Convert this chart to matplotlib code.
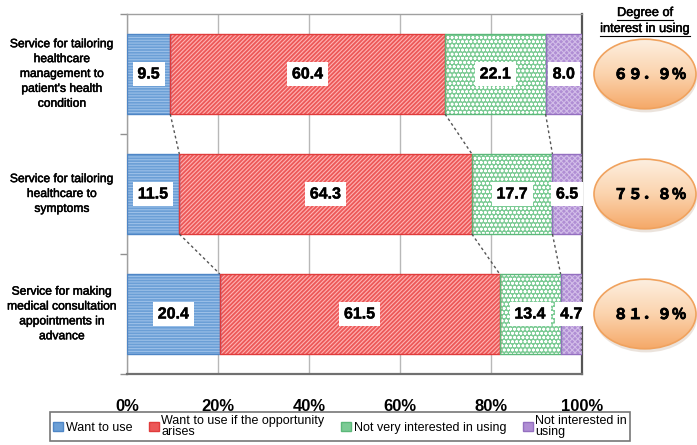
import numpy as np
import matplotlib
matplotlib.use("Agg")
import matplotlib.pyplot as plt
from matplotlib.patches import Ellipse, Patch
from matplotlib import patheffects
from matplotlib.transforms import blended_transform_factory

# ---- data -------------------------------------------------------------
categories = [
    "Service for tailoring\nhealthcare\nmanagement to\npatient's health\ncondition",
    "Service for tailoring\nhealthcare to\nsymptoms",
    "Service for making\nmedical consultation\nappointments in\nadvance",
]
series_names = [
    "Want to use",
    "Want to use if the opportunity\narises",
    "Not very interested in using",
    "Not interested in\nusing",
]
want_to_use = [9.5, 11.5, 20.4]
want_if_opportunity = [60.4, 64.3, 61.5]
not_very_interested = [22.1, 17.7, 13.4]
not_interested = [8.0, 6.5, 4.7]
interest_degree = ["６９．９％", "７５．８％", "８１．９％"]
x_ticks = [0, 20, 40, 60, 80, 100]
x_tick_labels = ["0%", "20%", "40%", "60%", "80%", "100%"]

# ---- styles -----------------------------------------------------------
plt.rcParams["font.family"] = ["Liberation Sans", "DejaVu Sans"]
plt.rcParams["hatch.linewidth"] = 0.8

styles = [
    dict(face="#6b9fd6", hatch="------", hcolor="#9cc0e8", edge="#4f86c6"),
    dict(face="#ec5858", hatch="////////", hcolor="#ffb3b3", edge="#e03c3c"),
    dict(face="#7ccb95", hatch="oooo", hcolor="#ffffff", edge="#5cb87a"),
    dict(face="#b08ed4", hatch="xxxxxx", hcolor="#d2bde8", edge="#9470c0"),
]

series = [want_to_use, want_if_opportunity, not_very_interested, not_interested]

W, H, DPI = 697, 445, 100
fig = plt.figure(figsize=(W / DPI, H / DPI), dpi=DPI)
ax = fig.add_axes([127 / W, 71 / H, 455 / W, 360 / H])

ypos = np.arange(len(categories))
bar_h = 0.667

lefts = np.zeros(len(categories))
bounds = []
for vals, st in zip(series, styles):
    vals = np.array(vals)
    ax.barh(ypos, vals, left=lefts, height=bar_h, color=st["face"],
            edgecolor="none", linewidth=0, zorder=2)
    ax.barh(ypos, vals, left=lefts, height=bar_h, color="none",
            edgecolor=st["hcolor"], hatch=st["hatch"], linewidth=0, zorder=3)
    ax.barh(ypos, vals, left=lefts, height=bar_h, color="none",
            edgecolor=st["edge"], linewidth=1.0, zorder=4)
    for yi, (l, v) in enumerate(zip(lefts, vals)):
        ax.text(l + v / 2, yi, f"{v:.1f}", ha="center", va="center",
                fontsize=11.5, fontweight="bold", color="black", zorder=6,
                path_effects=[patheffects.withStroke(linewidth=0.3, foreground="black")],
                bbox=dict(boxstyle="square,pad=0.3", fc="white", ec="none"))
    lefts = lefts + vals
    bounds.append(lefts.copy())

# dashed connectors between cumulative boundaries of neighbouring bars
for b in bounds[:-1]:
    for i in range(len(categories) - 1):
        ax.plot([b[i], b[i + 1]], [i + bar_h / 2, i + 1 - bar_h / 2],
                color="#555555", lw=1.0, ls=(0, (2, 2)), zorder=5)

ax.set_xlim(0, 100)
ax.set_ylim(len(categories) - 0.5, -0.5)
ax.set_xticks(x_ticks)
ax.set_xticklabels(x_tick_labels, fontsize=12, fontweight="bold")
ax.tick_params(axis="x", length=0, pad=18)
ax.grid(axis="x", color="#b8b8b8", lw=1.0, zorder=0)
ax.set_axisbelow(True)

ax.set_yticks(np.arange(-0.5, len(categories)))
ax.set_yticklabels([])
ax.tick_params(axis="y", length=5, color="#909090", width=1)

trans = blended_transform_factory(ax.transAxes, ax.transData)
for yi, cat in enumerate(categories):
    ax.text(-65 / 455, yi, cat, transform=trans, ha="center", va="center",
            fontsize=8.7, linespacing=1.32, color="black",
            path_effects=[patheffects.withStroke(linewidth=0.35, foreground="black")])

for side in ["left", "top"]:
    ax.spines[side].set_color("#a0a0a0")
    ax.spines[side].set_linewidth(1.0)
ax.spines["right"].set_color("#555555")
ax.spines["right"].set_linewidth(1.6)
ax.spines["bottom"].set_color("#707070")
ax.spines["bottom"].set_linewidth(1.6)

# ---- degree-of-interest ellipses -------------------------------------
ax2 = fig.add_axes([585 / W, 71 / H, 112 / W, 360 / H])
ax2.axis("off")
grad = np.linspace(0, 1, 256)[:, None]
cmap = matplotlib.colors.LinearSegmentedColormap.from_list(
    "peach", ["#fdf0e2", "#fbd3ad", "#f5a766"])
for yi, lab in enumerate(interest_degree):
    shadow = Ellipse((61, yi + 0.03), 102, 0.58, fc="#d9c9bb", ec="none",
                     alpha=0.5, zorder=1)
    ax2.add_patch(shadow)
    ell = Ellipse((60, yi), 102, 0.58, fc="none", ec="#f0a25e", lw=1.2, zorder=3)
    ax2.add_patch(ell)
    im = ax2.imshow(grad, cmap=cmap, extent=(8, 112, yi + 0.3, yi - 0.3),
                    aspect="auto", zorder=2)
    im.set_clip_path(ell)
    ax2.text(65, yi, lab, ha="center", va="center", fontsize=10.5,
             fontweight="bold", family=["Noto Sans CJK JP", "DejaVu Sans"],
             color="black", zorder=4,
             path_effects=[patheffects.withStroke(linewidth=0.6, foreground="black")])
ax2.set_xlim(0, 112)
ax2.set_ylim(len(categories) - 0.5, -0.5)

# header with underlines
fig.canvas.draw()
renderer = fig.canvas.get_renderer()
for txt, ypix in [("Degree of", 13), ("interest in using", 29)]:
    t = fig.text(645 / W, 1 - ypix / H, txt, ha="center", va="center",
                 fontsize=9.2, color="black",
                 path_effects=[patheffects.withStroke(linewidth=0.35, foreground="black")])
    bb = t.get_window_extent(renderer)
    fy = (bb.y0 - 1.0) / H
    fig.add_artist(plt.Line2D([bb.x0 / W, bb.x1 / W], [fy, fy],
                              color="black", lw=0.8, transform=fig.transFigure))

# ---- legend -----------------------------------------------------------
handles = [Patch(facecolor=st["face"], edgecolor=st["edge"]) for st in styles]
leg = fig.legend(handles, series_names, loc="lower left", ncol=4,
                 bbox_to_anchor=(50 / W, 4 / H, 580 / W, 28 / H), mode="expand",
                 fontsize=9, frameon=True, fancybox=False, edgecolor="#555555",
                 handlelength=0.8, handleheight=0.8, handletextpad=0.2,
                 borderpad=0.25, labelspacing=0.0, columnspacing=1.0,
                 borderaxespad=0.0)
for t in leg.get_texts():
    t.set_linespacing(0.85)
leg.get_frame().set_linewidth(1.2)

fig.savefig("out.png", dpi=DPI)
